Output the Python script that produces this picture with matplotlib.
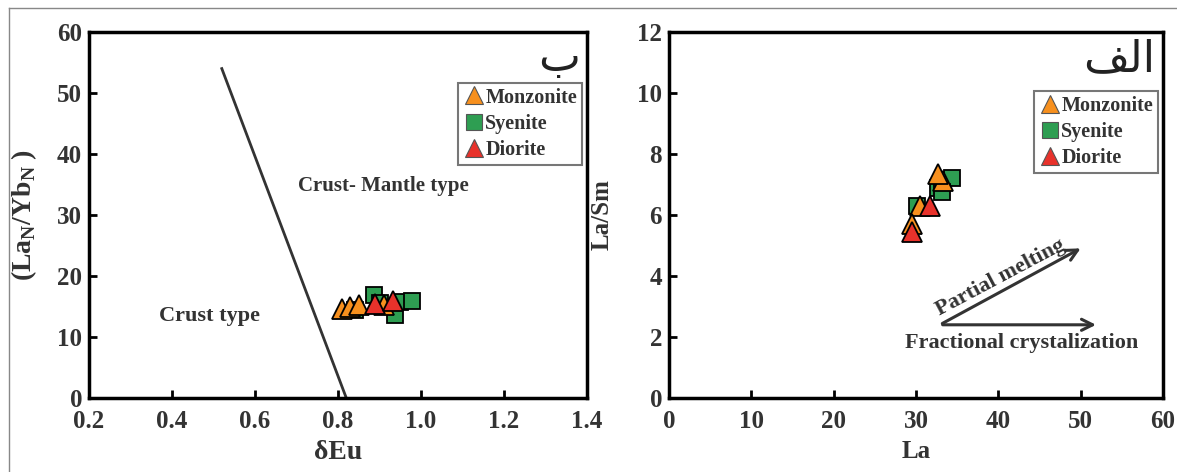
import matplotlib.pyplot as plt
from matplotlib.lines import Line2D

# ==================================================
# data
# ==================================================

# left panel: dEu vs (LaN/YbN)
mon_eu = [0.81, 0.83, 0.85, 0.91]
mon_layb = [14.6, 14.9, 15.2, 15.2]
sye_eu = [0.84, 0.887, 0.90, 0.937, 0.95, 0.978]
sye_layb = [14.4, 16.9, 15.6, 13.6, 15.7, 15.9]
dio_eu = [0.889, 0.933]
dio_layb = [15.4, 15.9]

# boundary line
line_eu = [0.52, 0.82]
line_layb = [54, 0]

# right panel: La vs La/Sm
mon_la = [33.3, 32.7, 30.5, 29.5]
mon_lasm = [7.1, 7.35, 6.3, 5.7]
sye_la = [34.4, 32.7, 33.2, 30.1]
sye_lasm = [7.2, 6.9, 6.75, 6.3]
dio_la = [31.7, 29.5]
dio_lasm = [6.3, 5.45]

c_mon = '#f7901e'
c_sye = '#2e9e52'
c_dio = '#e8322b'
txt_c = '#333333'

plt.rcParams['font.family'] = ['Liberation Serif', 'DejaVu Sans']
plt.rcParams['font.weight'] = 'bold'
plt.rcParams['mathtext.fontset'] = 'custom'
plt.rcParams['mathtext.rm'] = 'Liberation Serif:bold'
plt.rcParams['mathtext.bf'] = 'Liberation Serif:bold'

fig = plt.figure(figsize=(11.77, 4.72), dpi=100)

# outer frame
fig.add_artist(Line2D([9/1177, 9/1177], [0, 1-8/472], color='#888888', lw=1))
fig.add_artist(Line2D([9/1177, 1], [1-8/472, 1-8/472], color='#888888', lw=1))

ax1 = fig.add_axes([89/1177, 1-398/472, 498/1177, 366/472])
ax2 = fig.add_axes([669/1177, 1-398/472, 494/1177, 366/472])

ms_t = 14
ms_s = 12
for ax in (ax1, ax2):
    for s in ax.spines.values():
        s.set_linewidth(2.5)
    ax.tick_params(direction='in', length=6, width=2, top=False, right=False,
                   labelsize=18, labelcolor=txt_c, pad=5)
    ax.tick_params(axis='x', pad=9)

# ---------------- left ----------------
ax1.plot(line_eu, line_layb, color='#333333', lw=2)
ax1.plot(sye_eu, sye_layb, 's', ms=ms_s, mfc=c_sye, mec='black', mew=1.3, ls='none')
ax1.plot(mon_eu, mon_layb, '^', ms=ms_t, mfc=c_mon, mec='black', mew=1.3, ls='none')
ax1.plot(dio_eu, dio_layb, '^', ms=ms_t, mfc=c_dio, mec='black', mew=1.3, ls='none')

ax1.set_xlim(0.2, 1.4)
ax1.set_ylim(0, 60)
ax1.set_xticks([0.2, 0.4, 0.6, 0.8, 1.0, 1.2, 1.4])
ax1.set_xticklabels(['0.2', '0.4', '0.6', '0.8', '1.0', '1.2', '1.4'], fontweight='bold')
ax1.set_yticks([0, 10, 20, 30, 40, 50, 60])
ax1.set_yticklabels(['0', '10', '20', '30', '40', '50', '60'], fontweight='bold')
ax1.set_xlabel('δEu', fontsize=20, fontweight='bold', color=txt_c, labelpad=5)
ax1.set_ylabel(r'(La$_{\mathrm{N}}$/Yb$_{\mathrm{N}}$ )', fontsize=20, fontweight='bold',
               color=txt_c, labelpad=13)

ax1.text(0.91, 34.8, 'Crust- Mantle type', fontsize=15, fontweight='bold',
         color=txt_c, ha='center', va='center')
ax1.text(0.49, 13.5, 'Crust type', fontsize=16, fontweight='bold',
         color=txt_c, ha='center', va='center')
ax1.text(0.985, 0.985, 'ب', transform=ax1.transAxes, fontsize=32,
         family='DejaVu Sans', fontweight='normal', color='#222222', ha='right', va='top')

# ---------------- right ----------------
ax2.plot(sye_la, sye_lasm, 's', ms=ms_s, mfc=c_sye, mec='black', mew=1.3, ls='none')
ax2.plot(mon_la, mon_lasm, '^', ms=ms_t, mfc=c_mon, mec='black', mew=1.3, ls='none')
ax2.plot(dio_la, dio_lasm, '^', ms=ms_t, mfc=c_dio, mec='black', mew=1.3, ls='none')

ax2.set_xlim(0, 60)
ax2.set_ylim(0, 12)
ax2.set_xticks([0, 10, 20, 30, 40, 50, 60])
ax2.set_xticklabels(['0', '10', '20', '30', '40', '50', '60'], fontweight='bold')
ax2.set_yticks([0, 2, 4, 6, 8, 10, 12])
ax2.set_yticklabels(['0', '2', '4', '6', '8', '10', '12'], fontweight='bold')
ax2.set_xlabel('La', fontsize=18, fontweight='bold', color=txt_c, labelpad=5)
ax2.set_ylabel('La/Sm', fontsize=18, fontweight='bold', color=txt_c, labelpad=17)

ax2.annotate('', xy=(50.3, 4.95), xytext=(32.9, 2.4),
             arrowprops=dict(arrowstyle='->', color='#333333', lw=2.2, mutation_scale=20))
ax2.annotate('', xy=(52.2, 2.4), xytext=(32.9, 2.4),
             arrowprops=dict(arrowstyle='->', color='#333333', lw=2.2, mutation_scale=20))
ax2.text(40.3, 3.95, 'Partial melting', fontsize=16, fontweight='bold', color=txt_c,
         rotation=28, ha='center', va='center', rotation_mode='anchor')
ax2.text(42.8, 1.8, 'Fractional crystalization', fontsize=16, fontweight='bold',
         color=txt_c, ha='center', va='center')
ax2.text(0.985, 0.985, 'ﻒﻟﺍ', transform=ax2.transAxes, fontsize=32,
         family='DejaVu Sans', fontweight='normal', color='#222222', ha='right', va='top')

# ---------------- legends ----------------
handles = [
    Line2D([], [], marker='^', ms=ms_t - 1, mfc=c_mon, mec='#555555', mew=0.8, ls='none'),
    Line2D([], [], marker='s', ms=ms_s - 1, mfc=c_sye, mec='#555555', mew=0.8, ls='none'),
    Line2D([], [], marker='^', ms=ms_t - 1, mfc=c_dio, mec='#555555', mew=0.8, ls='none'),
]
labels = ['Monzonite', 'Syenite', 'Diorite']
for ax, anchor in ((ax1, (0.99, 0.862)), (ax2, (0.99, 0.84))):
    leg = ax.legend(handles, labels, loc='upper right', bbox_to_anchor=anchor,
                    frameon=True, fancybox=False, handletextpad=0.0,
                    handlelength=1.1, borderpad=0.25, labelspacing=0.3,
                    borderaxespad=0.0,
                    prop={'family': 'Liberation Serif', 'weight': 'bold', 'size': 14.5})
    leg.get_frame().set_edgecolor('#555555')
    leg.get_frame().set_linewidth(1.5)
    for t in leg.get_texts():
        t.set_color(txt_c)

fig.savefig('out.png', dpi=100)
